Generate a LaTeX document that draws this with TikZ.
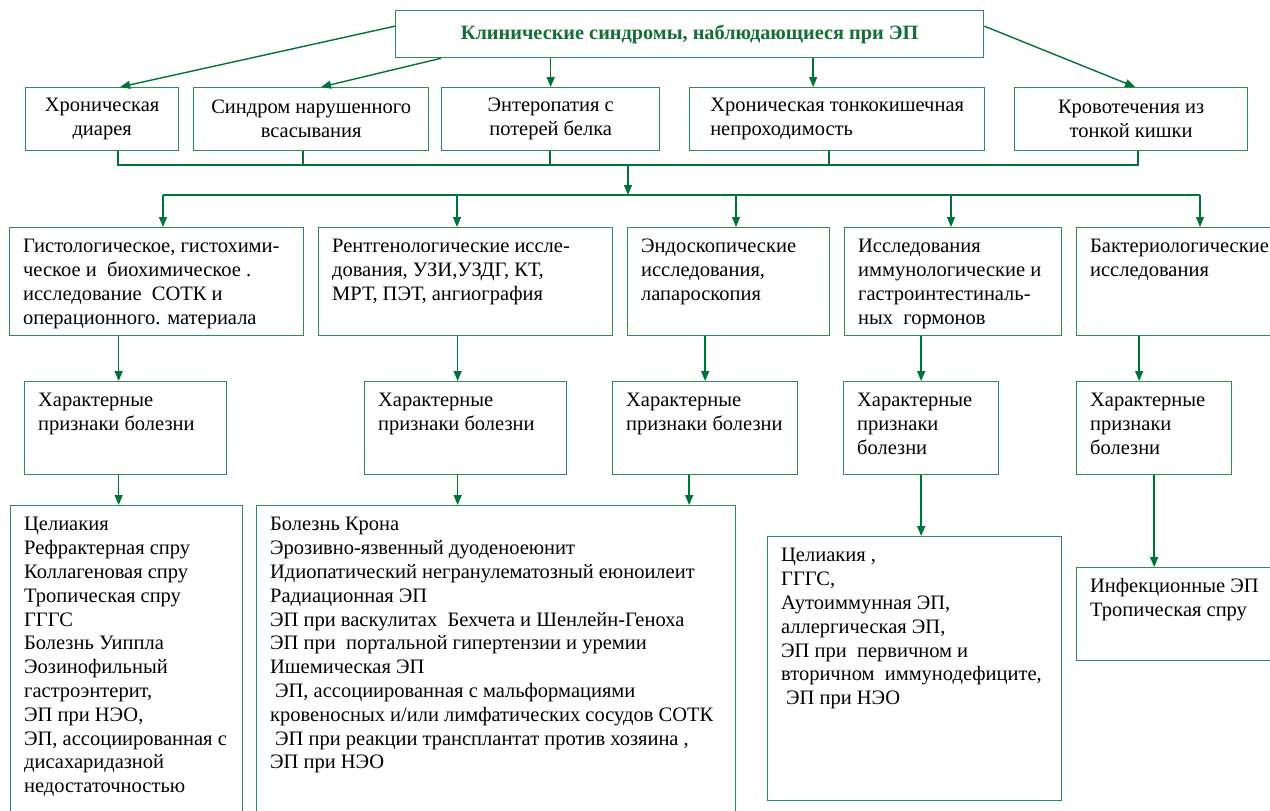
\documentclass[tikz,border=0pt]{standalone}
\usepackage{fontspec}
\setmainfont{Liberation Serif}
\usetikzlibrary{arrows.meta}
\definecolor{boxgreen}{RGB}{46,140,84}
\definecolor{linegreen}{RGB}{0,115,58}
\definecolor{titlegreen}{RGB}{20,110,55}
\tikzstyle{box}=[draw=boxgreen, line width=1.3pt, inner xsep=13.5pt, inner ysep=8.5pt, anchor=north west, font=\fontsize{20.5}{23.8}\selectfont]
\tikzstyle{line}=[draw=linegreen, line width=1.4pt]
\tikzstyle{arr}=[line, -{Triangle[length=10pt,width=8pt]}]
\newcommand{\boxtext}[3]{\parbox[t][#2][t]{#1}{\begin{tabular}[t]{@{}l@{}}#3\end{tabular}}}

\begin{document}
\begin{tikzpicture}[x=1pt,y=-1pt]
    \path[use as bounding box, fill=white] (0,0) rectangle (1270,811);
    \clip (0,0) rectangle (1270,811);

    \node[box, minimum width=588pt, minimum height=47pt, font=\fontsize{20.3}{24}\selectfont\bfseries, text=titlegreen] (t) at (395,10) {Клинические синдромы, наблюдающиеся при ЭП};

    \node[box, minimum width=153pt, minimum height=63pt, align=center] (b1) at (25,87) {Хроническая\\диарея};
    \node[box, minimum width=235pt, minimum height=63pt, align=center] (b2) at (193,87) {Синдром нарушенного\\всасывания};
    \node[box, minimum width=218pt, minimum height=63pt, align=center] (b3) at (441,87) {Энтеропатия с\\потерей белка};
    \node[box, minimum width=295pt, minimum height=63pt, align=left] (b4) at (689,87) {Хроническая тонкокишечная\\непроходимость};
    \node[box, minimum width=233pt, minimum height=63pt, align=center] (b5) at (1014,87) {Кровотечения из\\тонкой кишки};

    \node[box] (r1) at (9,227) {\boxtext{267pt}{91pt}{Гистологическое, гистохими-\\ческое и\ \ биохимическое .\\исследование\ \ СОТК и\\операционного. материала}};
    \node[box] (r2) at (318,227) {\boxtext{267pt}{91pt}{Рентгенологические иссле-\\дования, УЗИ,УЗДГ, КТ,\\МРТ, ПЭТ, ангиография}};
    \node[box] (r3) at (627,227) {\boxtext{175pt}{91pt}{Эндоскопические\\исследования,\\лапароскопия}};
    \node[box] (r4) at (844,227) {\boxtext{190pt}{91pt}{Исследования\\иммунологические и\\гастроинтестиналь-\\ных\ \ гормонов}};
    \node[box] (r5) at (1076,227) {\boxtext{223pt}{91pt}{Бактериологические\\исследования}};

    \node[box] (c1) at (24,381) {\boxtext{175pt}{76pt}{Характерные\\признаки болезни}};
    \node[box] (c2) at (364,381) {\boxtext{175pt}{76pt}{Характерные\\признаки болезни}};
    \node[box] (c3) at (612,381) {\boxtext{158pt}{76pt}{Характерные\\признаки болезни}};
    \node[box] (c4) at (843,381) {\boxtext{128pt}{76pt}{Характерные\\признаки\\болезни}};
    \node[box] (c5) at (1076,381) {\boxtext{128pt}{76pt}{Характерные\\признаки\\болезни}};

    \node[box] (d1) at (10,505) {\boxtext{205pt}{313pt}{Целиакия\\Рефрактерная спру\\Коллагеновая спру\\Тропическая спру\\ГГГС\\Болезнь Уиппла\\Эозинофильный\\гастроэнтерит,\\ЭП при НЭО,\\ЭП, ассоциированная с\\дисахаридазной\\недостаточностью}};
    \node[box] (d2) at (256,505) {\boxtext{452pt}{313pt}{Болезнь Крона\\Эрозивно-язвенный дуоденоеюнит\\Идиопатический негранулематозный еюноилеит\\Радиационная ЭП\\ЭП при васкулитах\ \ Бехчета и Шенлейн-Геноха\\ЭП при\ \ портальной гипертензии и уремии\\Ишемическая ЭП\\\hspace{5pt}ЭП, ассоциированная с мальформациями\\кровеносных и/или лимфатических сосудов СОТК\\\hspace{5pt}ЭП при реакции трансплантат против хозяина ,\\ЭП при НЭО}};
    \node[box] (d3) at (767,536) {\boxtext{267pt}{247pt}{Целиакия ,\\ГГГС,\\Аутоиммунная ЭП,\\аллергическая ЭП,\\ЭП при\ \ первичном и\\вторичном\ \ иммунодефиците,\\\hspace{5pt}ЭП при НЭО}};
    \node[box] (d4) at (1076,567) {\boxtext{223pt}{76pt}{Инфекционные ЭП\\Тропическая спру}};

    \draw[arr] ([yshift=8pt]t.west) -- ([xshift=18pt]b1.north);
    \draw[arr] ([xshift=46pt]t.south west) -- ([xshift=10pt]b2.north);
    \draw[arr] (b3.north |- t.south) -- (b3.north);
    \draw[arr] ([xshift=-24pt]b4.north |- t.south) -- ([xshift=-24pt]b4.north);
    \draw[arr] ([yshift=8pt]t.east) -- ([xshift=4pt]b5.north);

    \coordinate (u1) at (118,165);
    \coordinate (u2) at (303,165);
    \coordinate (u3) at (550,165);
    \coordinate (u4) at (829,165);
    \coordinate (u5) at (1138,165);
    \coordinate (u0) at (628,165);
    \coordinate (s0) at (628,195);
    \coordinate (s1) at (163,195);
    \coordinate (s2) at (457,195);
    \coordinate (s3) at (736,195);
    \coordinate (s4) at (951,195);
    \coordinate (s5) at (1200,195);

    \draw[line] (u1 |- b1.south) -- (u1) -- (u5) -- (u5 |- b5.south);
    \foreach \i in {2,3,4}
      \draw[line] (u\i |- b\i.south) -- (u\i);
    \draw[arr] (u0) -- (s0);
    \draw[line] (s1) -- (s5);
    \foreach \i in {1,...,5}
      \draw[arr] (s\i) -- (s\i |- r\i.north);

    \foreach \a/\b/\s in {r1/c1/-7, r2/c2/-8, r3/c3/0, r4/c4/0, r5/c5/-15}
      \draw[arr] ([xshift=\s pt]\b.north |- \a.south) -- ([xshift=\s pt]\b.north);
    \foreach \a/\b/\s in {c1/d1/-7, c2/d2/-8, c3/d2/-16, c4/d3/0, c5/d4/0}
      \draw[arr] ([xshift=\s pt]\a.south) -- ([xshift=\s pt]\a.south |- \b.north);
  \end{tikzpicture}
\end{document}
